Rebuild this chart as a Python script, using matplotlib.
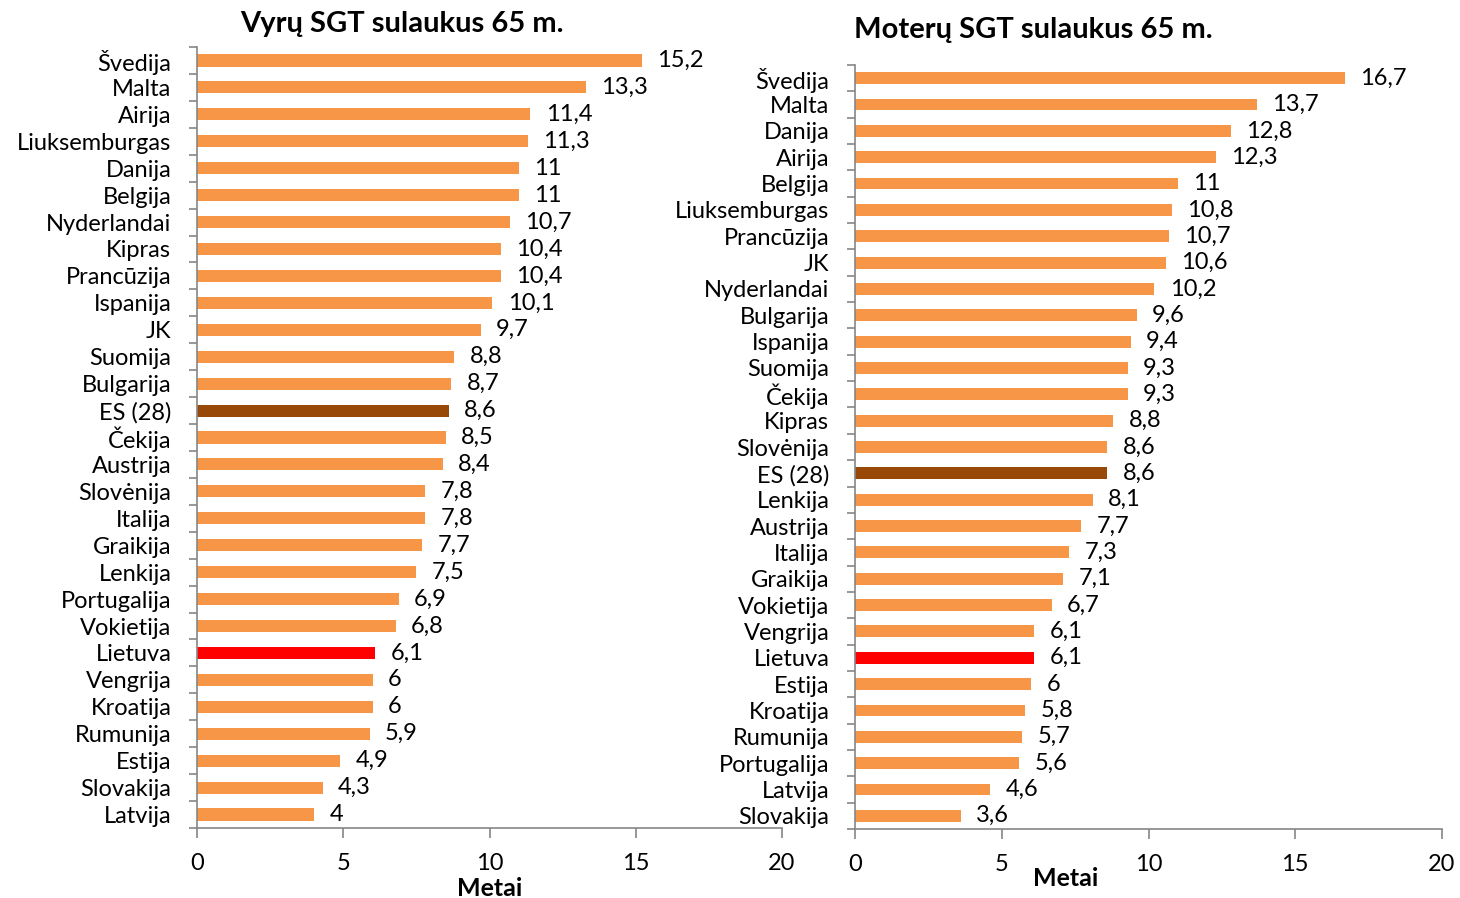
import matplotlib
matplotlib.use("Agg")
import matplotlib.pyplot as plt
import numpy as np

plt.rcParams['font.family'] = ['Lato', 'DejaVu Sans']

men_countries = ["Švedija", "Malta", "Airija", "Liuksemburgas", "Danija", "Belgija",
                 "Nyderlandai", "Kipras", "Prancūzija", "Ispanija", "JK", "Suomija",
                 "Bulgarija", "ES (28)", "Čekija", "Austrija", "Slovėnija", "Italija",
                 "Graikija", "Lenkija", "Portugalija", "Vokietija", "Lietuva", "Vengrija",
                 "Kroatija", "Rumunija", "Estija", "Slovakija", "Latvija"]
men_values = [15.2, 13.3, 11.4, 11.3, 11, 11, 10.7, 10.4, 10.4, 10.1, 9.7, 8.8,
              8.7, 8.6, 8.5, 8.4, 7.8, 7.8, 7.7, 7.5, 6.9, 6.8, 6.1, 6, 6, 5.9,
              4.9, 4.3, 4]

women_countries = ["Švedija", "Malta", "Danija", "Airija", "Belgija", "Liuksemburgas",
                   "Prancūzija", "JK", "Nyderlandai", "Bulgarija", "Ispanija", "Suomija",
                   "Čekija", "Kipras", "Slovėnija", "ES (28)", "Lenkija", "Austrija",
                   "Italija", "Graikija", "Vokietija", "Vengrija", "Lietuva", "Estija",
                   "Kroatija", "Rumunija", "Portugalija", "Latvija", "Slovakija"]
women_values = [16.7, 13.7, 12.8, 12.3, 11, 10.8, 10.7, 10.6, 10.2, 9.6, 9.4, 9.3,
                9.3, 8.8, 8.6, 8.6, 8.1, 7.7, 7.3, 7.1, 6.7, 6.1, 6.1, 6, 5.8, 5.7,
                5.6, 4.6, 3.6]

xticks = [0, 5, 10, 15, 20]

ORANGE = "#F79646"
BROWN = "#984807"
RED = "#FF0000"
GRAY = "#868686"
FS = 17

W, H = 1460, 898
fig = plt.figure(figsize=(W / 100, H / 100), dpi=100)


def fmt(v):
    s = ("%.1f" % v).replace(".", ",")
    return s[:-2] if s.endswith(",0") else s


def draw(box, countries, values):
    x0, x1, ytop, ybot = box
    ax = fig.add_axes([x0 / W, 1 - ybot / H, (x1 - x0) / W, (ybot - ytop) / H])
    colors = [BROWN if c == "ES (28)" else RED if c == "Lietuva" else ORANGE
              for c in countries]
    y = np.arange(len(countries))
    ax.barh(y, values, height=0.45, color=colors)
    for yi, v in zip(y, values):
        ax.annotate(fmt(v), (v, yi), xytext=(11, 0), textcoords="offset points",
                    va="center", ha="left", fontsize=FS)
    ax.set_ylim(len(countries) - 0.5, -0.5)
    ax.set_xlim(0, 20)
    ax.set_yticks(y)
    ax.set_yticklabels(countries, fontsize=FS)
    ax.set_yticks(np.arange(len(countries) + 1) - 0.5, minor=True)
    ax.tick_params(axis="y", which="major", length=0, pad=18.5)
    ax.tick_params(axis="y", which="minor", length=6, color=GRAY, width=1.2)
    ax.set_xticks(xticks)
    ax.set_xticklabels([str(t) for t in xticks], fontsize=FS)
    ax.tick_params(axis="x", length=7, color=GRAY, width=1.2, pad=11)
    for s in ["top", "right"]:
        ax.spines[s].set_visible(False)
    for s in ["left", "bottom"]:
        ax.spines[s].set_color(GRAY)
        ax.spines[s].set_linewidth(1.2)
    return ax


draw((197, 782, 47, 828), men_countries, men_values)
draw((855, 1442, 65, 829), women_countries, women_values)

fig.text(402 / W, 1 - 24 / H, "Vyrų SGT sulaukus 65 m.", ha="center", va="center",
         fontsize=21, fontweight="bold")
fig.text(1033 / W, 1 - 30 / H, "Moterų SGT sulaukus 65 m.", ha="center", va="center",
         fontsize=21, fontweight="bold")
fig.text(490 / W, 1 - 889 / H, "Metai", ha="center", va="center",
         fontsize=18, fontweight="bold")
fig.text(1066 / W, 1 - 878 / H, "Metai", ha="center", va="center",
         fontsize=18, fontweight="bold")

fig.savefig("out.png", dpi=100)
